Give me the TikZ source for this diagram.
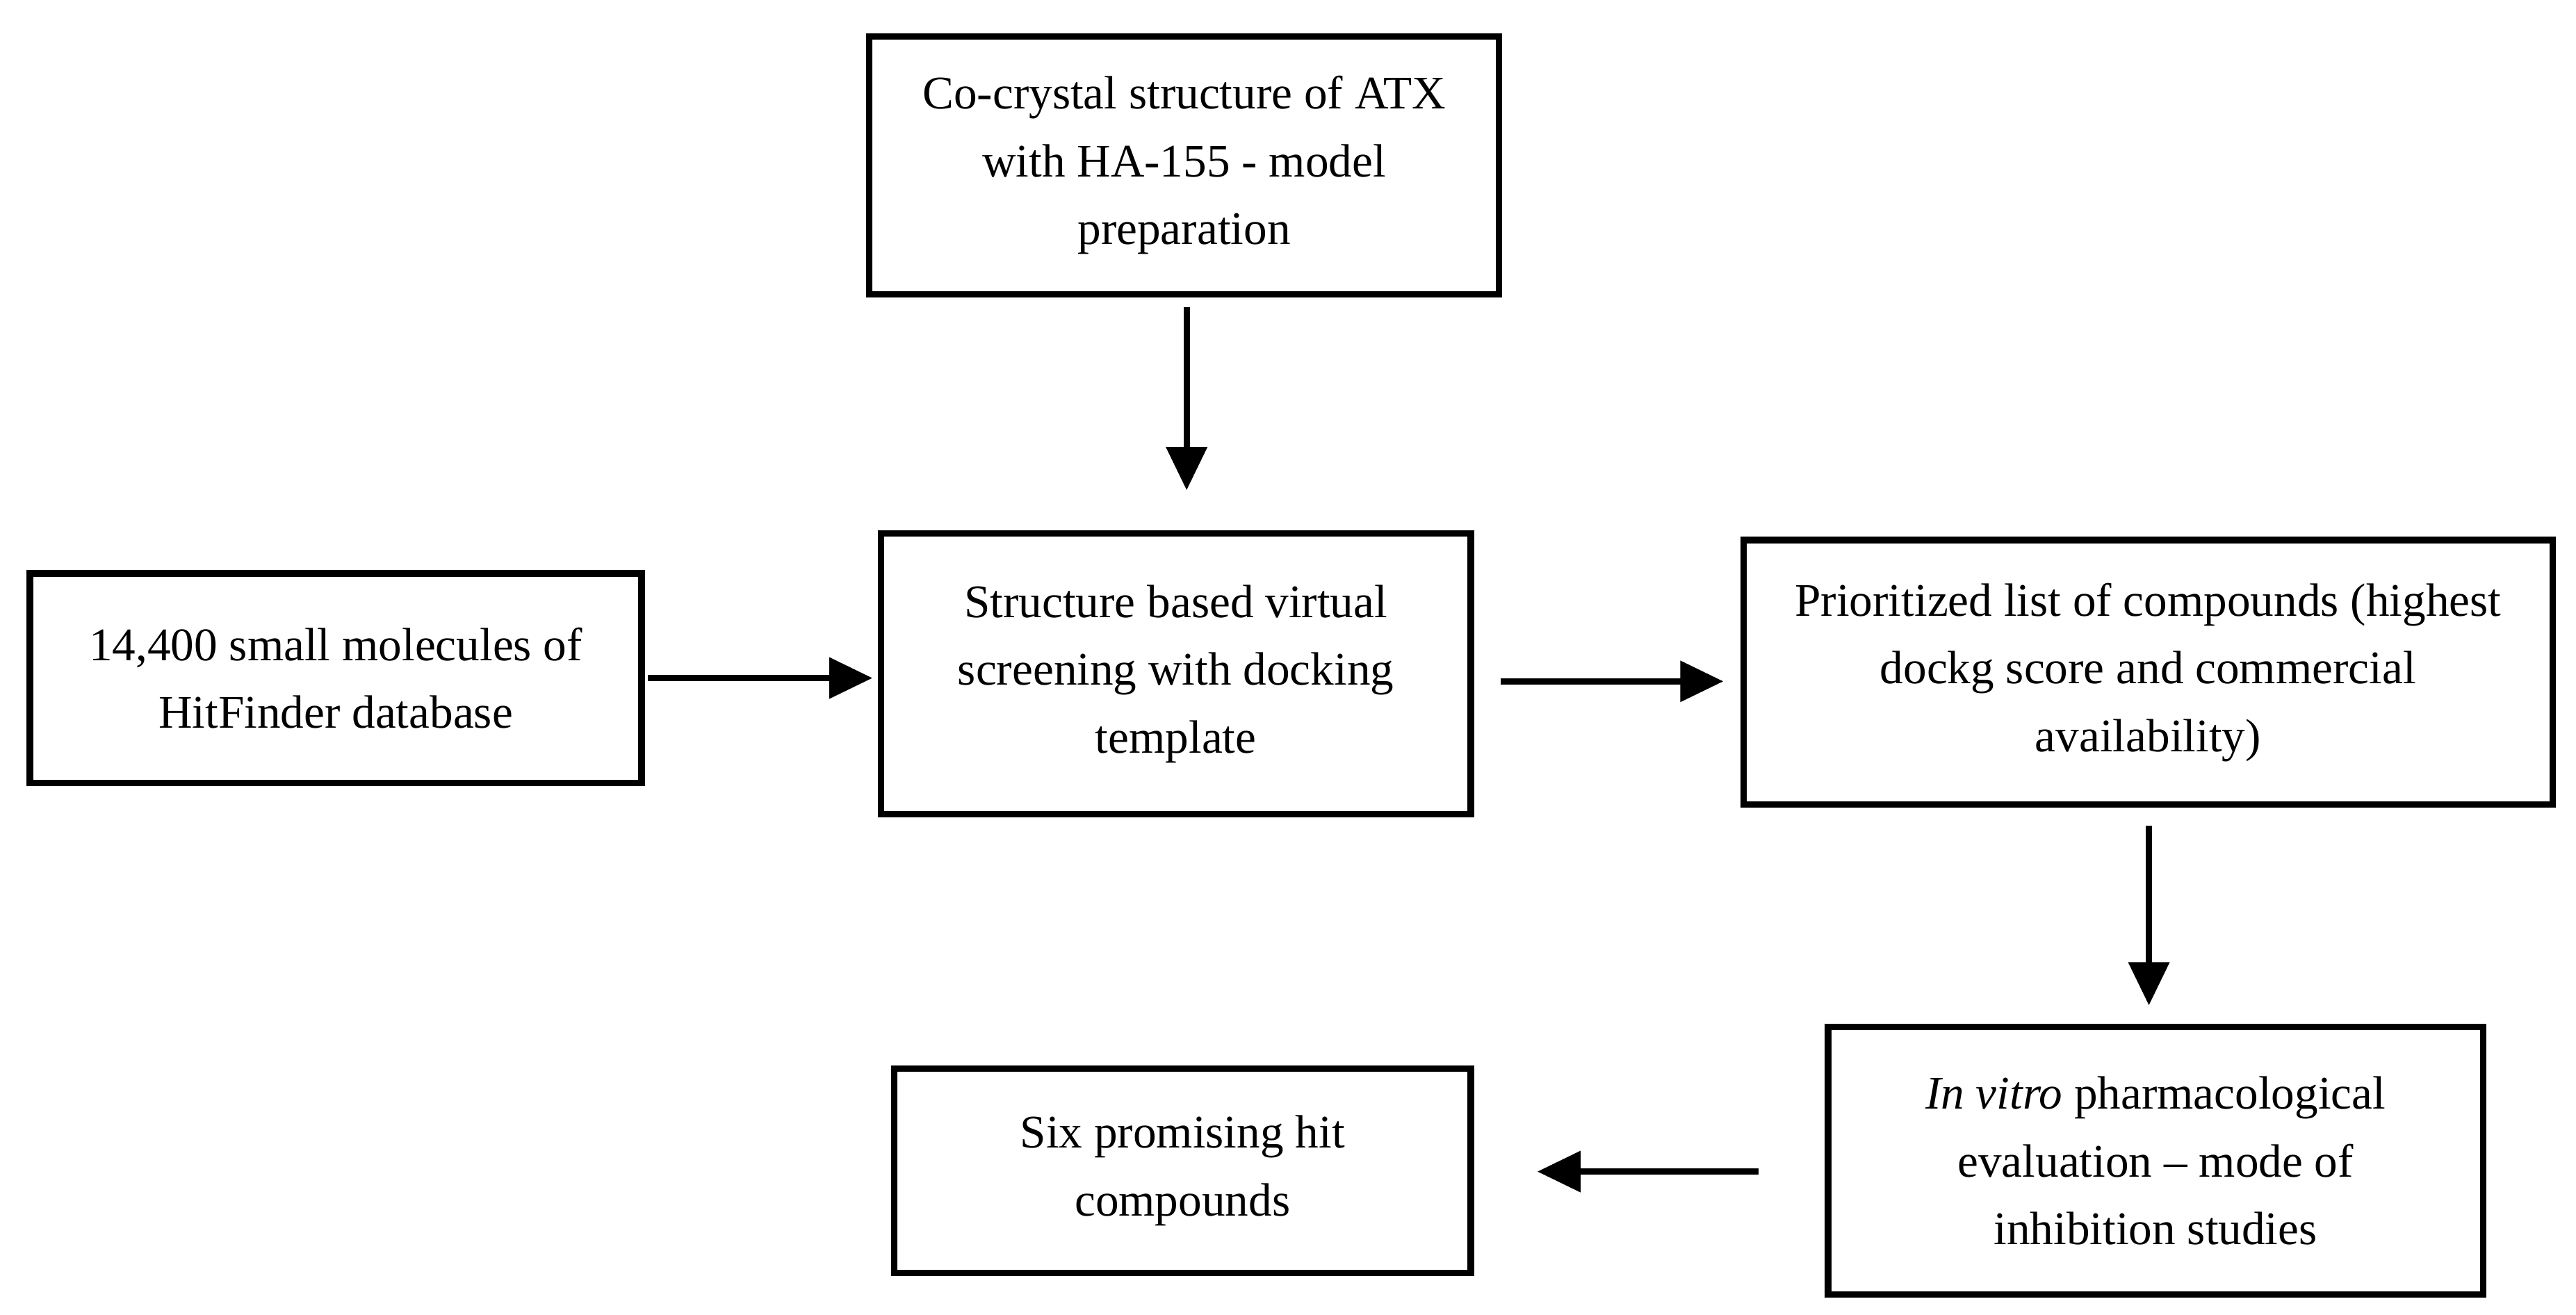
\documentclass[tikz,border=0pt]{standalone}
\usepackage{fontspec}
\setmainfont{Liberation Serif}
\usetikzlibrary{positioning,arrows.meta}
\begin{document}
\begin{tikzpicture}[
  stage/.style={draw, line width=1.1pt, align=center, font=\fontsize{8}{11.6}\selectfont, inner sep=0pt},
  flow/.style={-{Triangle[length=2.6mm,width=2.4mm]}, line width=1.1pt}]
\useasboundingbox (0,0) rectangle (15.5,-7.91);
% boxes
\node[stage, minimum width=3.79cm, minimum height=1.55cm] (model) at (7.125,-0.995) {Co-crystal structure of ATX\\with HA-155 - model\\preparation};
\node[stage, minimum width=3.55cm, minimum height=1.69cm] (screen) at (7.075,-4.055) {Structure based virtual\\screening with docking\\template};
\node[stage, minimum width=3.68cm, minimum height=1.26cm] (lib) at (2.02,-4.08) {14,400 small molecules of\\HitFinder database};
\node[stage, minimum width=4.87cm, minimum height=1.59cm] (list) at (12.925,-4.045) {Prioritized list of compounds (highest\\dockg score and commercial\\availability)};
\node[stage, minimum width=3.94cm, minimum height=1.61cm] (eval) at (12.97,-6.985) {\textit{In vitro} pharmacological\\evaluation -- mode of\\inhibition studies};
\node[stage, minimum width=3.47cm, minimum height=1.23cm] (hits) at (7.115,-7.045) {Six promising hit\\compounds};
% arrows
\coordinate (a1) at (7.14,-1.85);
\coordinate (a2) at (7.14,-2.95);
\coordinate (b1) at (12.93,-4.97);
\coordinate (b2) at (12.93,-6.05);
\coordinate (c1) at (10.58,-7.05);
\coordinate (c2) at (9.25,-7.05);
\coordinate (d1) at (3.9,-4.08);
\coordinate (d2) at (5.25,-4.08);
\coordinate (e1) at (9.03,-4.1);
\coordinate (e2) at (10.37,-4.1);
\draw[flow] (a1) -- (a2);
\draw[flow] (d1) -- (d2);
\draw[flow] (e1) -- (e2);
\draw[flow] (b1) -- (b2);
\draw[flow] (c1) -- (c2);
\end{tikzpicture}
\end{document}
